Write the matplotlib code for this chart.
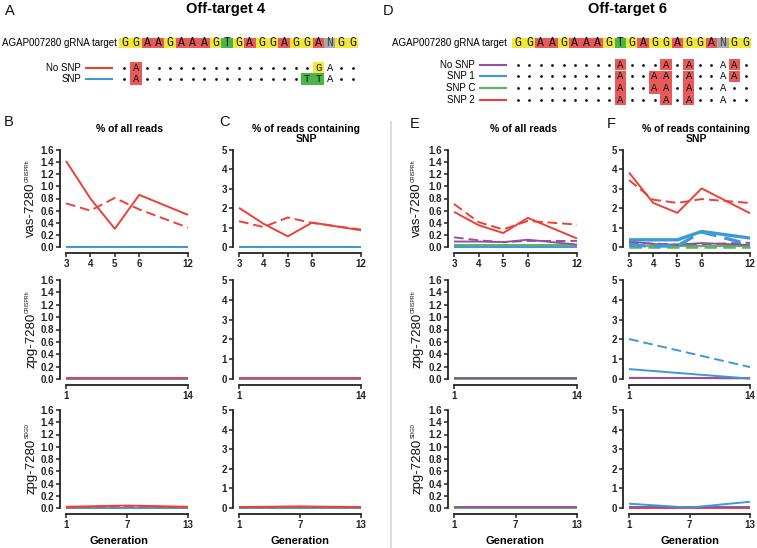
import numpy as np
import matplotlib
matplotlib.use("Agg")
import matplotlib.pyplot as plt
from matplotlib.patches import Rectangle

plt.rcParams["font.family"] = ["Liberation Sans", "DejaVu Sans"]

W, H, DPI = 757, 548, 100

RED = "#ec4136"
BLUE = "#3c9ad8"
PURPLE = "#9550a3"
GREEN = "#55b95a"
AXIS = "#222222"
SOLID = "-"
DASH = (0, (5, 2.5))

BASE_COL = {"G": "#f0e736", "A": "#e85a5a", "T": "#4bb548", "N": "#a9a9a9"}

# generations sampled per line
gen_vas = [3, 4, 5, 6, 12]
gen_zpg_crh = [1, 14]
gen_zpg_sdgd = [1, 7, 13]

# ---- Off-target 4 ----  red = no SNP, blue = SNP ; solid / dashed = two cages
# B: % of all reads
b_vas_red_1 = [1.42, 0.80, 0.30, 0.86, 0.53]
b_vas_red_2 = [0.72, 0.60, 0.81, 0.62, 0.32]
b_vas_blue = [0, 0, 0, 0, 0]
b_crh_red = [0.02, 0.02]
b_crh_blue = [0, 0]
b_sdgd_red_1 = [0.02, 0.04, 0.02]
b_sdgd_red_2 = [0.01, 0.03, 0.01]
b_sdgd_blue = [0, 0, 0]
# C: % of reads containing SNP
c_vas_red_1 = [2.02, 1.20, 0.55, 1.26, 0.86]
c_vas_red_2 = [1.33, 1.03, 1.52, 1.24, 0.90]
c_vas_blue = [0, 0, 0, 0, 0]
c_crh_red = [0.05, 0.05]
c_crh_blue = [0, 0]
c_sdgd_red_1 = [0.05, 0.08, 0.05]
c_sdgd_red_2 = [0.04, 0.06, 0.04]
c_sdgd_blue = [0, 0, 0]

# ---- Off-target 6 ----  purple = no SNP, blue = SNP 1, green = SNP C, red = SNP 2
# E: % of all reads
e_vas_red_1 = [0.58, 0.36, 0.23, 0.48, 0.14]
e_vas_red_2 = [0.71, 0.41, 0.29, 0.43, 0.37]
e_vas_purple_1 = [0.09, 0.09, 0.08, 0.12, 0.04]
e_vas_purple_2 = [0.16, 0.11, 0.08, 0.10, 0.10]
e_vas_green = [0.03, 0.03, 0.03, 0.03, 0.03]
e_vas_blue = [0, 0, 0, 0, 0]
e_crh_purple = [0.01, 0.01]
e_crh_green = [0, 0]
e_sdgd_purple = [0.01, 0.01, 0.01]
e_sdgd_green = [0, 0, 0]
# F: % of reads containing SNP
f_vas_red_1 = [3.84, 2.27, 1.76, 3.02, 1.74]
f_vas_red_2 = [3.45, 2.44, 2.27, 2.47, 2.27]
f_vas_blue_1 = [0.37, 0.37, 0.37, 0.80, 0.46]
f_vas_blue_2 = [0.08, 0.05, 0.05, 0.78, 0.12]
f_vas_purple_1 = [0.30, 0.15, 0.12, 0.20, 0.10]
f_vas_purple_2 = [0.22, 0.18, 0.12, 0.15, 0.22]
f_vas_green_1 = [0.05, 0.05, 0.05, 0.05, 0.05]
f_vas_green_2 = [0, 0, 0, 0, 0]
f_crh_blue_1 = [0.50, 0.02]
f_crh_blue_2 = [2.02, 0.60]
f_crh_purple = [0.03, 0.03]
f_crh_red = [0.06, 0.03]
f_sdgd_blue = [0.22, 0.02, 0.32]
f_sdgd_purple = [0.03, 0.03, 0.03]
f_sdgd_red = [0, 0, 0]

# sequences
target_seq = "GGAAGAAAGTGAGGAGGANGG"
ot4_labels = ["No SNP", "SNP"]
ot4_seqs = [".A...............GA..", ".A..............TTA.."]
ot4_colors = [RED, BLUE]
ot6_labels = ["No SNP", "SNP 1", "SNP C", "SNP 2"]
ot6_seqs = [".........A...A.A..AA.", ".........A..AA.A..AA.",
            ".........A..AA.A..A..", ".........A...A.A..A.."]
ot6_colors = [PURPLE, BLUE, GREEN, RED]

row_labels = [("vas-7280", "CRISPRh"), ("zpg-7280", "CRISPRh"), ("zpg-7280", "SDGD")]
row_gens = [gen_vas, gen_zpg_crh, gen_zpg_sdgd]

fig = plt.figure(figsize=(W / DPI, H / DPI), dpi=DPI)
ov = fig.add_axes([0, 0, 1, 1])
ov.set_xlim(0, W)
ov.set_ylim(H, 0)
ov.axis("off")


def px_axes(x0, x1, y_top, y_zero):
    return fig.add_axes([x0 / W, 1 - y_zero / H, (x1 - x0) / W, (y_zero - y_top) / H])


def vas_fwd(x):
    x = np.asarray(x, float)
    return np.where(x <= 6, x - 3, 3 + (x - 6) / 3)


def vas_inv(u):
    u = np.asarray(u, float)
    return np.where(u <= 3, u + 3, 6 + 3 * (u - 3))


def style_axes(ax, gens, all_reads, vas):
    if vas:
        ax.set_xscale("function", functions=(vas_fwd, vas_inv))
    ax.set_xlim(gens[0], gens[-1])
    for s in ("top", "right"):
        ax.spines[s].set_visible(False)
    for s in ("left", "bottom"):
        ax.spines[s].set_position(("outward", 4.3))
        ax.spines[s].set_linewidth(1.3)
        ax.spines[s].set_color(AXIS)
    ax.tick_params(direction="out", length=3, width=1.1, pad=1.2, colors=AXIS,
                   labelsize=7)
    ax.minorticks_off()
    ax.set_xticks(gens, [str(g) for g in gens])
    if all_reads:
        yt = np.round(np.arange(0, 1.61, 0.2), 1)
        ax.set_ylim(0, 1.6)
        ax.set_yticks(yt, [f"{v:.1f}" for v in yt])
    else:
        ax.set_ylim(0, 5)
        ax.set_yticks(range(6), [str(v) for v in range(6)])
    for lab in ax.get_xticklabels() + ax.get_yticklabels():
        lab.set_fontweight("bold")
        lab.set_fontsize(7)
    ax.patch.set_visible(False)


# (values, colour, linestyle, linewidth) for each panel, rows top to bottom
panel_series = {
    "B": [
        [(b_vas_blue, BLUE, SOLID, 1.4), (b_vas_blue, BLUE, DASH, 1.4),
         (b_vas_red_2, RED, DASH, 1.4), (b_vas_red_1, RED, SOLID, 1.4)],
        [(b_crh_blue, BLUE, SOLID, 1.4), (b_crh_red, RED, DASH, 1.4), (b_crh_red, RED, SOLID, 1.4)],
        [(b_sdgd_blue, BLUE, SOLID, 1.4), (b_sdgd_red_2, RED, DASH, 1.4),
         (b_sdgd_red_1, RED, SOLID, 1.4)],
    ],
    "C": [
        [(c_vas_blue, BLUE, SOLID, 1.4), (c_vas_blue, BLUE, DASH, 1.4),
         (c_vas_red_2, RED, DASH, 1.4), (c_vas_red_1, RED, SOLID, 1.4)],
        [(c_crh_blue, BLUE, SOLID, 1.4), (c_crh_red, RED, DASH, 1.4), (c_crh_red, RED, SOLID, 1.4)],
        [(c_sdgd_blue, BLUE, SOLID, 1.4), (c_sdgd_red_2, RED, DASH, 1.4),
         (c_sdgd_red_1, RED, SOLID, 1.4)],
    ],
    "E": [
        [(e_vas_blue, BLUE, SOLID, 1.4), (e_vas_green, GREEN, SOLID, 1.4),
         (e_vas_green, GREEN, DASH, 1.4), (e_vas_purple_2, PURPLE, DASH, 1.4),
         (e_vas_purple_1, PURPLE, SOLID, 1.4), (e_vas_red_2, RED, DASH, 1.4),
         (e_vas_red_1, RED, SOLID, 1.4)],
        [(e_crh_green, GREEN, SOLID, 1.4), (e_crh_purple, PURPLE, SOLID, 1.4)],
        [(e_sdgd_green, GREEN, SOLID, 1.4), (e_sdgd_purple, PURPLE, SOLID, 1.4)],
    ],
    "F": [
        [(f_vas_green_1, GREEN, SOLID, 1.4), (f_vas_green_2, GREEN, DASH, 1.8),
         (f_vas_purple_2, PURPLE, DASH, 1.4), (f_vas_purple_1, PURPLE, SOLID, 1.4),
         (f_vas_blue_2, BLUE, DASH, 2.4), (f_vas_blue_1, BLUE, SOLID, 2.4),
         (f_vas_red_2, RED, DASH, 1.4), (f_vas_red_1, RED, SOLID, 1.4)],
        [(f_crh_red, RED, SOLID, 1.4), (f_crh_purple, PURPLE, SOLID, 1.4),
         (f_crh_blue_1, BLUE, SOLID, 1.4), (f_crh_blue_2, BLUE, DASH, 1.4)],
        [(f_sdgd_red, RED, SOLID, 1.4), (f_sdgd_purple, PURPLE, SOLID, 1.4),
         (f_sdgd_blue, BLUE, SOLID, 1.4)],
    ],
}

cols = {"B": (66, 188), "C": (239, 361), "E": (454, 577), "F": (629, 750)}
rows = [(150, 247), (280, 379), (410, 508)]

for name, (x0, x1) in cols.items():
    for r, (yt, yz) in enumerate(rows):
        ax = px_axes(x0, x1, yt, yz)
        gens = row_gens[r]
        style_axes(ax, gens, name in ("B", "E"), r == 0)
        for vals, col, ls, lw in panel_series[name][r]:
            ax.plot(gens, vals, color=col, ls=ls, lw=lw, clip_on=False,
                    solid_capstyle="butt", dash_capstyle="butt")

# ---- text / annotations in pixel space ----
renderer = fig.canvas.get_renderer()


def ylabel(xb, yc, main, sup):
    t1 = ov.text(xb, 0, main, rotation=90, rotation_mode="anchor",
                 ha="left", va="baseline", fontsize=9.5, color="#111")
    t2 = ov.text(xb - 9.5, 0, sup, rotation=90, rotation_mode="anchor",
                 ha="left", va="top", fontsize=3.8, color="#111")
    l1 = t1.get_window_extent(renderer).height
    l2 = t2.get_window_extent(renderer).height
    start = yc + (l1 + l2) / 2
    t1.set_y(start)
    t2.set_y(start - l1 - 0.5)


for xb in (34, 420):
    for (yt, yz), (main, sup) in zip(rows, row_labels):
        ylabel(xb, (yt + yz) / 2, main, sup)

# panel letters
for letter, x, y in [("A", 10, 11), ("D", 388, 11), ("B", 8.5, 122), ("C", 224, 122),
                     ("E", 415, 124), ("F", 611, 124)]:
    ov.text(x, y, letter, ha="center", va="center", fontsize=10.5, color="#111")

ov.text(226, 8.5, "Off-target 4", ha="center", va="center", fontsize=10.5, fontweight="bold")
ov.text(627, 8.5, "Off-target 6", ha="center", va="center", fontsize=10.5, fontweight="bold")

for x in (130, 523):
    ov.text(x, 129, "% of all reads", ha="center", va="center", fontsize=7.5, fontweight="bold")
for x in (306, 696):
    ov.text(x, 134, "% of reads containing\nSNP", ha="center", va="center",
            fontsize=7.5, fontweight="bold", linespacing=1.0)

for x in (119, 300, 515, 690):
    ov.text(x, 541, "Generation", ha="center", va="center", fontsize=8, fontweight="bold")

# divider
ov.plot([391, 391], [122, 548], color="#dddddd", lw=1.5)


def draw_seq(x0, step, y_target, label_right, legend_x0, legend_x1, rows_y, row_h,
             labels, seqs, colors):
    ov.text(label_right, y_target, "AGAP007280 gRNA target", ha="right", va="center", fontsize=7)
    for i, b in enumerate(target_seq):
        ov.add_patch(Rectangle((x0 + i * step, y_target - 5.4), step, 10.8,
                               facecolor=BASE_COL[b], lw=0))
        ov.text(x0 + (i + 0.5) * step, y_target + 3.4, b, family="Liberation Mono",
                fontsize=8.3, ha="center", va="baseline",
                color="#444" if b == "N" else "#111")
    for lab, seq, col, y in zip(labels, seqs, colors, rows_y):
        ov.text(legend_x0 - 5, y, lab, ha="right", va="center", fontsize=7)
        ov.plot([legend_x0, legend_x1], [y, y], color=col, lw=1.5)
        for i, b in enumerate(seq):
            cx = x0 + (i + 0.5) * step
            if b == ".":
                ov.plot(cx, y, "o", ms=2.0, color="#111", mew=0)
                continue
            if target_seq[i] not in (b, "N"):
                ov.add_patch(Rectangle((x0 + i * step, y - row_h / 2), step, row_h,
                                       facecolor=BASE_COL[b], lw=0))
            ov.text(cx, y + 3.1, b, family="Liberation Mono", fontsize=7.6,
                    ha="center", va="baseline", color="#111")


draw_seq(118.7, 11.41, 43, 117, 86, 112, [67.8, 79.0], 11.2, ot4_labels, ot4_seqs, ot4_colors)
draw_seq(512.3, 11.38, 43, 507, 480, 506, [64.5, 76.3, 88, 99.6], 11.6,
         ot6_labels, ot6_seqs, ot6_colors)

fig.savefig("out.png", dpi=DPI)
